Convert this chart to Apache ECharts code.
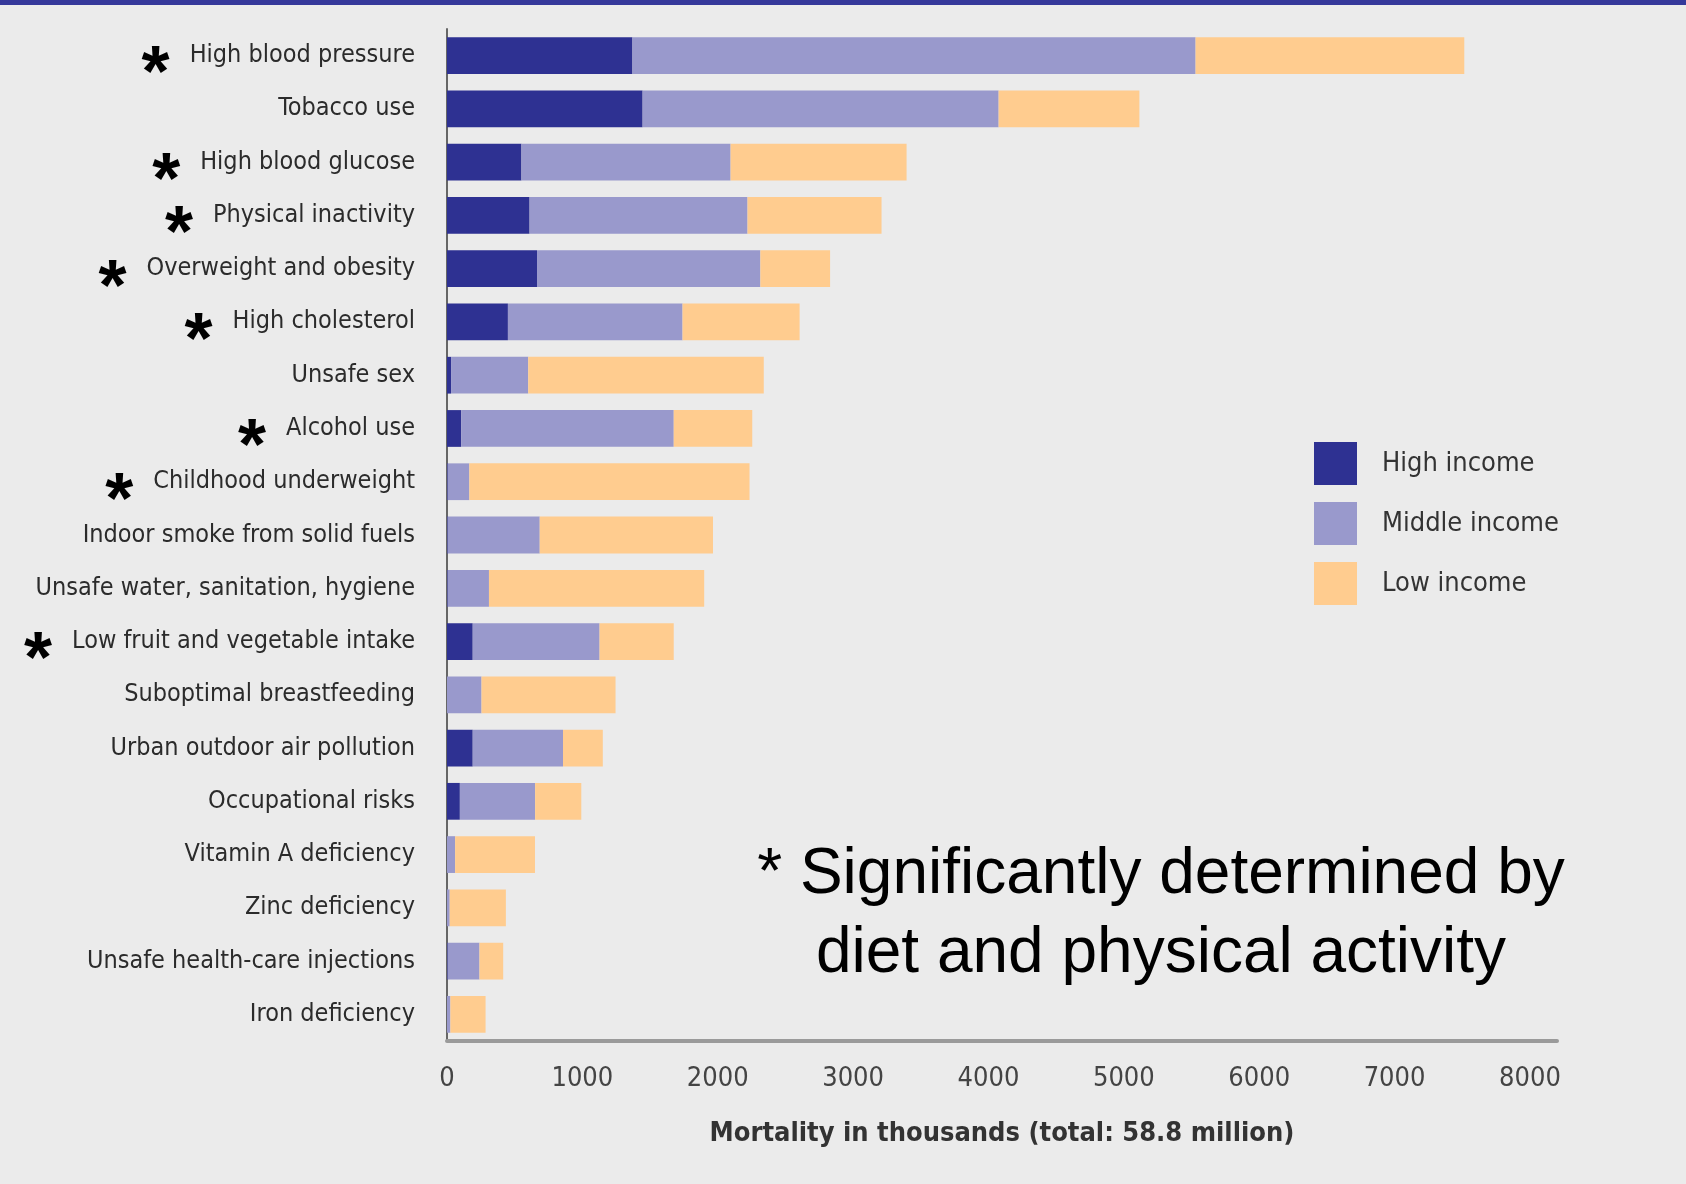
<!DOCTYPE html>
<html>
<head>
<meta charset="utf-8">
<script src="https://cdn.jsdelivr.net/npm/echarts@6/dist/echarts.min.js"></script>
<style>
  html, body { margin: 0; padding: 0; background: #ebebeb; }
  #main { width: 1686px; height: 1184px; }
</style>
</head>
<body>
<div id="main"></div>
<script>
// risk factors, top to bottom
const riskFactors = [
  "High blood pressure", "Tobacco use", "High blood glucose", "Physical inactivity",
  "Overweight and obesity", "High cholesterol", "Unsafe sex", "Alcohol use",
  "Childhood underweight", "Indoor smoke from solid fuels", "Unsafe water, sanitation, hygiene",
  "Low fruit and vegetable intake", "Suboptimal breastfeeding", "Urban outdoor air pollution",
  "Occupational risks", "Vitamin A deficiency", "Zinc deficiency",
  "Unsafe health-care injections", "Iron deficiency"
];
// factors marked with *
const starred = [
  "High blood pressure", "High blood glucose", "Physical inactivity", "Overweight and obesity",
  "High cholesterol", "Alcohol use", "Childhood underweight", "Low fruit and vegetable intake"
];
// deaths in thousands
const highIncome   = [1370, 1445, 550, 610, 665, 450, 30, 105, 5, 5, 5, 190, 0, 190, 95, 0, 0, 5, 0];
const middleIncome = [4160, 2630, 1545, 1610, 1650, 1290, 570, 1570, 160, 680, 305, 937, 255, 667, 556, 60, 20, 235, 25];
const lowIncome    = [1985, 1040, 1300, 990, 515, 865, 1740, 580, 2070, 1280, 1590, 548, 990, 294, 341, 590, 415, 175, 260];
const seriesNames  = ["High income", "Middle income", "Low income"];
const xTicks = { min: 0, max: 8200, step: 1000 };

const labelFont = '"Liberation Sans Narrow", "DejaVu Sans Condensed", sans-serif';

let chart = echarts.init(document.getElementById("main"));
let option = {
  backgroundColor: "#ebebeb",
  animation: false,
  grid: { left: 447, right: 129, top: 29, bottom: 143, containLabel: false, outerBoundsMode: "none" },
  legend: {
    data: seriesNames,
    orient: "vertical",
    left: 1309,
    top: 437,
    icon: "rect",
    itemWidth: 43,
    itemHeight: 43,
    itemGap: 17,
    textStyle: { fontFamily: labelFont, fontSize: 27, color: "#333", padding: [0, 0, 0, 20] }
  },
  xAxis: {
    type: "value",
    min: xTicks.min,
    max: xTicks.max,
    interval: xTicks.step,
    name: "Mortality in thousands (total: 58.8 million)",
    nameLocation: "middle",
    nameGap: 79,
    nameTextStyle: { fontFamily: labelFont, fontSize: 27, fontWeight: "bold", color: "#333" },
    axisLine: { show: true, lineStyle: { color: "#9a9a9a", width: 4 } },
    axisTick: { show: false },
    splitLine: { show: false },
    axisLabel: {
      showMaxLabel: false,
      margin: 24,
      fontFamily: labelFont,
      fontSize: 27,
      color: "#444",
      formatter: function (v) { return String(v); }
    }
  },
  yAxis: {
    type: "category",
    inverse: true,
    data: riskFactors,
    axisLine: { show: true, lineStyle: { color: "#666", width: 2 } },
    axisTick: { show: false },
    axisLabel: {
      margin: 32,
      interval: 0,
      showMinLabel: true,
      showMaxLabel: true,
      hideOverlap: false,
      formatter: function (val) {
        let t = "{name|" + val + "}";
        return starred.indexOf(val) >= 0 ? "{star|*}" + t : t;
      },
      rich: {
        name: { fontFamily: labelFont, fontSize: 25, color: "#2b2b2b" },
        star: { fontFamily: "Liberation Sans", fontWeight: "bold", fontSize: 72, color: "#000", padding: [42, 20, 0, 0] }
      }
    }
  },
  series: [
    { name: seriesNames[0], type: "bar", stack: "total", barCategoryGap: "31%", itemStyle: { color: "#2e3192" }, data: highIncome },
    { name: seriesNames[1], type: "bar", stack: "total", itemStyle: { color: "#9999cc" }, data: middleIncome },
    { name: seriesNames[2], type: "bar", stack: "total", itemStyle: { color: "#ffcc8f" }, data: lowIncome }
  ],
  graphic: [
    { type: "rect", shape: { x: 0, y: 0, width: 1686, height: 5 }, style: { fill: "#35389a" } },
    {
      type: "text",
      x: 1161,
      y: 915,
      style: {
        text: "* Significantly determined by\ndiet and physical activity",
        font: '64px "Liberation Sans", Arial, sans-serif',
        lineHeight: 79,
        fill: "#000",
        align: "center",
        verticalAlign: "middle"
      }
    }
  ]
};
chart.setOption(option);
</script>
</body>
</html>
